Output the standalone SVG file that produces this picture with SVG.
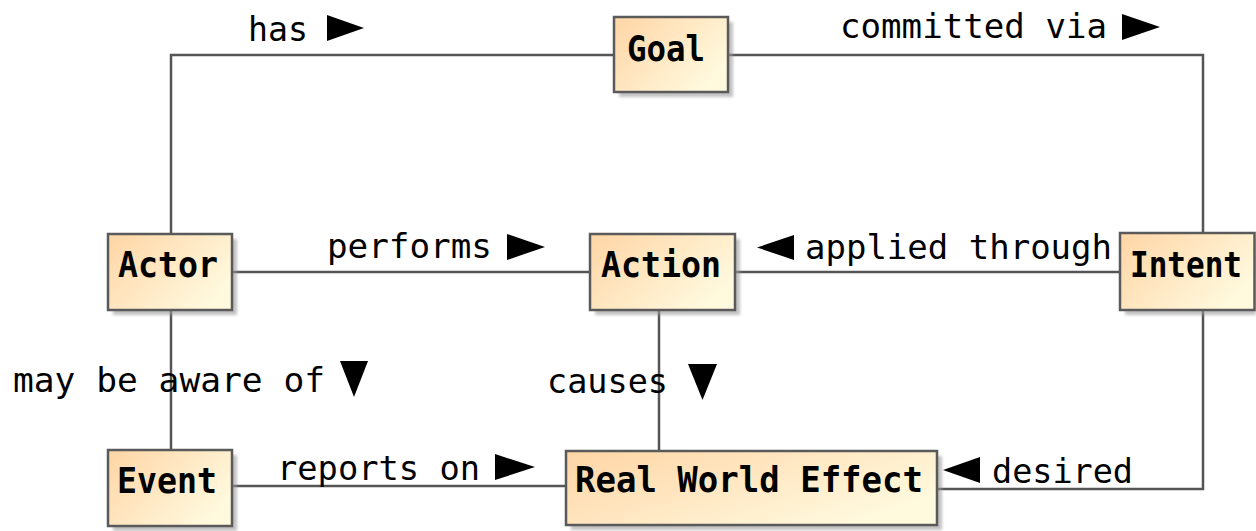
<svg xmlns="http://www.w3.org/2000/svg" width="1256" height="531" viewBox="0 0 1256 531">
<style>
.box{fill:url(#g);stroke:#5a5a5a;stroke-width:2.5}
.sh{fill:#9a9a9a;opacity:0.6;filter:url(#blur)}
.bt{font-family:"DejaVu Sans Mono","Liberation Mono",monospace;font-weight:bold;font-size:36px;fill:#000}
.lt{font-family:"DejaVu Sans Mono","Liberation Mono",monospace;font-size:34px;fill:#000}
.ln{fill:none;stroke:#555;stroke-width:2.5}
.tri{fill:#000}
</style>
<defs>
<linearGradient id="g" x1="0" y1="0" x2="1" y2="0.6">
<stop offset="0" stop-color="#FFD5A5"/>
<stop offset="1" stop-color="#FFF9DE"/>
</linearGradient>
<filter id="blur" x="-10%" y="-10%" width="120%" height="130%"><feGaussianBlur stdDeviation="1.5"/></filter>
</defs>
<rect width="1256" height="531" fill="#fff"/>
<g id="connectors">
<polyline class="ln" points="614,55 171,55 171,234"/>
<polyline class="ln" points="728,55 1203,55 1203,233"/>
<line class="ln" x1="232" y1="272" x2="590" y2="272"/>
<line class="ln" x1="735" y1="272" x2="1120" y2="272"/>
<line class="ln" x1="171" y1="310" x2="171" y2="450"/>
<line class="ln" x1="659" y1="310" x2="659" y2="451"/>
<line class="ln" x1="232" y1="486" x2="566" y2="486"/>
<polyline class="ln" points="1203,310 1203,489 937,489"/>
<text class="lt" x="248" y="41" textLength="60" lengthAdjust="spacingAndGlyphs">has</text>
<polygon class="tri" points="327,15 364,28 327,41"/>
<text class="lt" x="840" y="38" textLength="267" lengthAdjust="spacingAndGlyphs">committed via</text>
<polygon class="tri" points="1122,14 1160,27 1122,40"/>
<text class="lt" x="327" y="258" textLength="165" lengthAdjust="spacingAndGlyphs">performs</text>
<polygon class="tri" points="507,234 545,247 507,260"/>
<polygon class="tri" points="794,235 757,247.5 794,260"/>
<text class="lt" x="805" y="259" textLength="307" lengthAdjust="spacingAndGlyphs">applied through</text>
<text class="lt" x="13" y="392" textLength="312" lengthAdjust="spacingAndGlyphs">may be aware of</text>
<polygon class="tri" points="340,361 368,361 354,397"/>
<text class="lt" x="547" y="393" textLength="121" lengthAdjust="spacingAndGlyphs">causes</text>
<polygon class="tri" points="688,364 717,364 702.5,400"/>
<text class="lt" x="277" y="480" textLength="203" lengthAdjust="spacingAndGlyphs">reports on</text>
<polygon class="tri" points="495,454 535,467 495,480"/>
<polygon class="tri" points="980,457 943,470 980,483"/>
<text class="lt" x="992" y="483" textLength="141" lengthAdjust="spacingAndGlyphs">desired</text>
</g>
<g id="goal">
<rect class="sh" x="619" y="22" width="114" height="75"/>
<rect class="box" x="614" y="17" width="114" height="75"/>
<text class="bt" x="627" y="61" textLength="78" lengthAdjust="spacingAndGlyphs">Goal</text>
</g>
<g id="actor">
<rect class="sh" x="113" y="239" width="124" height="76"/>
<rect class="box" x="108" y="234" width="124" height="76"/>
<text class="bt" x="118" y="277" textLength="100" lengthAdjust="spacingAndGlyphs">Actor</text>
</g>
<g id="action">
<rect class="sh" x="595" y="239" width="145" height="76"/>
<rect class="box" x="590" y="234" width="145" height="76"/>
<text class="bt" x="601" y="277" textLength="120" lengthAdjust="spacingAndGlyphs">Action</text>
</g>
<g id="intent">
<rect class="sh" x="1125" y="238" width="131" height="77"/>
<rect class="box" x="1120" y="233" width="134.5" height="77"/>
<text class="bt" x="1130" y="277" font-size="34" textLength="112" lengthAdjust="spacingAndGlyphs">Intent</text>
</g>
<g id="event">
<rect class="sh" x="113" y="455" width="124" height="76"/>
<rect class="box" x="108" y="450" width="124" height="76"/>
<text class="bt" x="117" y="493" textLength="100" lengthAdjust="spacingAndGlyphs">Event</text>
</g>
<g id="real-world-effect">
<rect class="sh" x="571" y="456" width="371" height="74"/>
<rect class="box" x="566" y="451" width="371" height="74"/>
<text class="bt" x="575" y="492" textLength="348" lengthAdjust="spacingAndGlyphs">Real World Effect</text>
</g>
</svg>
